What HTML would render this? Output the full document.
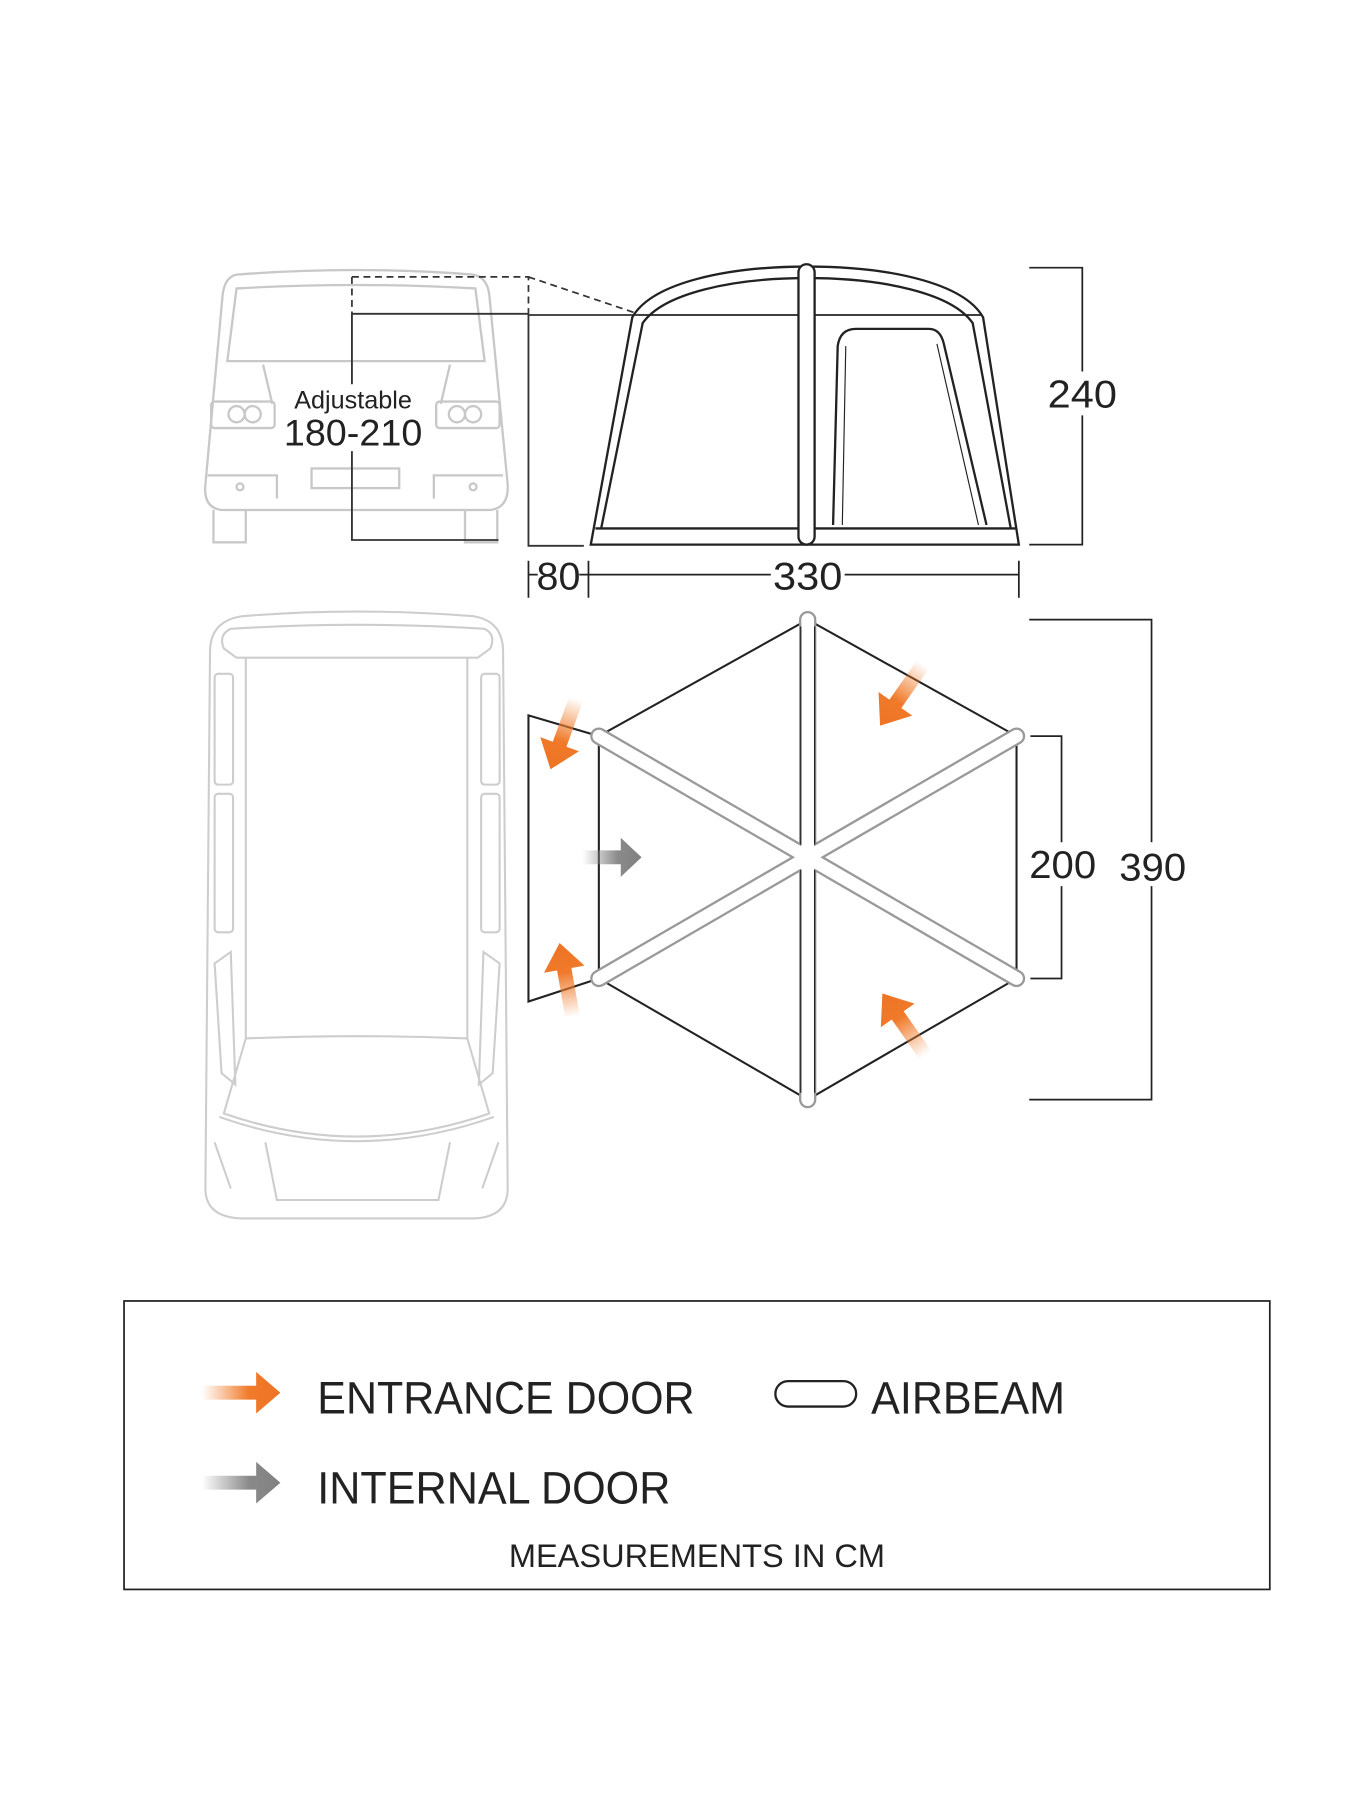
<!DOCTYPE html>
<html><head><meta charset="utf-8"><style>
html,body{margin:0;padding:0;background:#fff;}
svg{display:block}
text{font-family:"Liberation Sans",sans-serif;fill:#222;}
</style></head><body>
<svg width="1350" height="1800" viewBox="0 0 1170 1560" xmlns="http://www.w3.org/2000/svg">
<defs>
<linearGradient id="og" x1="0" x2="1"><stop offset="0" stop-color="#f08030" stop-opacity="0"/><stop offset="0.6" stop-color="#f07a2a"/><stop offset="1" stop-color="#ee7325"/></linearGradient>
<linearGradient id="gg" x1="0" x2="1"><stop offset="0" stop-color="#888" stop-opacity="0"/><stop offset="0.6" stop-color="#8a8a8a"/><stop offset="1" stop-color="#808080"/></linearGradient>
<g id="oarrow"><path d="M-40,-6 L0,-6 L0,-17 L22,0 L0,17 L0,6 L-40,6 Z" fill="url(#og)"/></g>
</defs>

<!-- Van rear (grey) -->
<g fill="none" stroke="#c8c8c8" stroke-width="2">
<path d="M205,238 Q309,230 410,238 Q422,240 424,255 L440,420 Q441,440 425,442 L192,442 Q176,440 178,420 L193,255 Q195,240 205,238 Z"/>
<path d="M205,250 Q309,244 412,250 L420,313 L197,313 Z"/>
<path d="M228,316 L236,350 M390,316 L382,350"/>
<rect x="183" y="348" width="55" height="23" rx="3"/>
<rect x="378" y="348" width="55" height="23" rx="3"/>
<circle cx="205" cy="359" r="7"/><circle cx="219" cy="359" r="7"/>
<circle cx="396" cy="359" r="7"/><circle cx="410" cy="359" r="7"/>
<rect x="270" y="406" width="76" height="17"/>
<path d="M180,412 L240,412 L240,432 M436,412 L376,412 L376,432"/>
<circle cx="208" cy="422" r="3"/><circle cx="410" cy="422" r="3"/>
<path d="M185,442 L185,470 L213,470 L213,442 M403,442 L403,470 L431,470 L431,442"/>
</g>

<!-- dashed -->
<g fill="none" stroke="#333" stroke-width="1.5" stroke-dasharray="6,4">
<path d="M305,240 L458,240 L458,272 M305,240 L305,272 M458,240 L553,272"/>
</g>
<g fill="none" stroke="#333" stroke-width="1.6">
<path d="M305,272 L458,272 M305,272 L305,468 L432,468"/>
<path d="M458,273 L553,273 M458,272 L458,473 L506,473"/>
</g>

<!-- Tent side -->
<g fill="none" stroke="#222" stroke-width="2">
<path d="M512,472 L548,275 C565,245 630,231 700,231 C770,231 835,245 852,275 L883,472 Z"/>
<path d="M521,458 L557,280 C575,254 635,241 700,241 C765,241 825,254 843,280 L876,458"/>
<path d="M516,458 L880,458" />
<path d="M553,273 L850,273" stroke-width="1.5"/>
<rect x="692" y="229" width="14" height="243" rx="7" fill="#fff"/>
<path d="M722,455 L726,300 Q728,285 742,285 L805,285 Q815,285 818,298 L855,455"/>
<path d="M730,455 L733,300 M848,455 L812,298" stroke-width="1"/>
</g>

<!-- dims side -->
<g fill="none" stroke="#222" stroke-width="1.5">
<path d="M892,232 L938,232 L938,322 M938,360 L938,472 L892,472"/>
<path d="M458,486 L458,518 M510,486 L510,518 M883,486 L883,518"/>
<path d="M458,498 L466,498 M502,498 L668,498 M732,498 L883,498"/>
</g>
<text x="938" y="353" font-size="34" text-anchor="middle" textLength="60" lengthAdjust="spacingAndGlyphs">240</text>
<text x="484" y="511" font-size="34" text-anchor="middle" textLength="38" lengthAdjust="spacingAndGlyphs">80</text>
<text x="700" y="511" font-size="34" text-anchor="middle" textLength="60" lengthAdjust="spacingAndGlyphs">330</text>
<rect x="250" y="333" width="112" height="58" fill="#fff"/>
<text x="306" y="354" font-size="22" text-anchor="middle" textLength="102" lengthAdjust="spacingAndGlyphs">Adjustable</text>
<text x="306" y="386" font-size="32" text-anchor="middle" textLength="120" lengthAdjust="spacingAndGlyphs">180-210</text>

<!-- car top view -->
<g fill="none" stroke="#cdcdcd" stroke-width="1.8">
<path d="M210,534 Q309,526 410,534 Q436,538 436,565 L440,1030 Q440,1055 410,1056 L210,1056 Q178,1055 178,1030 L182,565 Q182,538 210,534 Z"/>
<path d="M200,545 Q309,538 420,545 Q430,550 425,562 L414,570 L205,570 L194,562 Q189,550 200,545 Z"/>
<path d="M213,570 L213,900 M405,570 L405,900"/>
<path d="M213,900 Q309,896 405,900 L424,965 Q309,1005 194,965 Z"/>
<path d="M190,968 Q309,1010 428,968"/>
<path d="M230,990 L240,1040 L380,1040 L390,990"/>
<rect x="186" y="584" width="16" height="96" rx="3"/><rect x="417" y="584" width="16" height="96" rx="3"/>
<rect x="186" y="688" width="16" height="120" rx="3"/><rect x="417" y="688" width="16" height="120" rx="3"/>
<path d="M186,835 L200,825 L204,940 L192,930 Z M433,835 L419,825 L415,940 L427,930 Z"/>
<path d="M186,990 L200,1030 M432,990 L418,1030"/>
</g>

<!-- plan view -->
<g fill="none" stroke="#222" stroke-width="1.8">
<path d="M700,537 L881,638 L881,848 L700,953 L519,848 L519,638 Z"/>
<path d="M519,638 L458,620 L458,868 L519,848"/>
</g>
<g stroke-linecap="round">
<g stroke="#999" stroke-width="15"><path d="M700,537 L700,953 M519,638 L881,848 M881,638 L519,848"/></g>
<g stroke="#fff" stroke-width="11"><path d="M700,537 L700,953 M519,638 L881,848 M881,638 L519,848"/></g>
</g>
<g fill="none" stroke="#222" stroke-width="1.1">
<path d="M694,543 L694,732 M706,543 L706,732 M694,754 L694,947 M706,754 L706,947"/>
</g>

<!-- orange arrows plan -->
<use href="#oarrow" transform="translate(485,645) rotate(110) scale(1.05)"/>
<use href="#oarrow" transform="translate(776,610) rotate(125) scale(1.05)"/>
<use href="#oarrow" transform="translate(489,840) rotate(-100) scale(1.05)"/>
<use href="#oarrow" transform="translate(778,880) rotate(-125) scale(1.05)"/>
<path d="M505,737 L538,737 L538,726 L556,743 L538,760 L538,749 L505,749 Z" fill="url(#gg)"/>

<!-- plan dims -->
<g fill="none" stroke="#222" stroke-width="1.5">
<path d="M893,638 L920,638 L920,730 M920,768 L920,848 L893,848"/>
<path d="M892,537 L998,537 L998,730 M998,768 L998,953 L892,953"/>
</g>
<text x="921" y="761" font-size="34" text-anchor="middle" textLength="58" lengthAdjust="spacingAndGlyphs">200</text>
<text x="999" y="763" font-size="34" text-anchor="middle" textLength="58" lengthAdjust="spacingAndGlyphs">390</text>

<!-- legend -->
<rect x="107.5" y="1127.5" width="993" height="250" fill="none" stroke="#222" stroke-width="1.5"/>
<path d="M175,1201 L222,1201 L222,1189 L243,1207 L222,1225 L222,1213 L175,1213 Z" fill="url(#og)"/>
<path d="M175,1279 L222,1279 L222,1267 L243,1285 L222,1303 L222,1291 L175,1291 Z" fill="url(#gg)"/>
<text x="275" y="1225" font-size="39" textLength="327" lengthAdjust="spacingAndGlyphs">ENTRANCE DOOR</text>
<text x="275" y="1303" font-size="39" textLength="306" lengthAdjust="spacingAndGlyphs">INTERNAL DOOR</text>
<rect x="672" y="1197" width="70" height="22" rx="11" fill="#fff" stroke="#222" stroke-width="2"/>
<text x="755" y="1225" font-size="39" textLength="168" lengthAdjust="spacingAndGlyphs">AIRBEAM</text>
<text x="604" y="1358" font-size="28" text-anchor="middle" textLength="326" lengthAdjust="spacingAndGlyphs">MEASUREMENTS IN CM</text>
</svg>
</body></html>
